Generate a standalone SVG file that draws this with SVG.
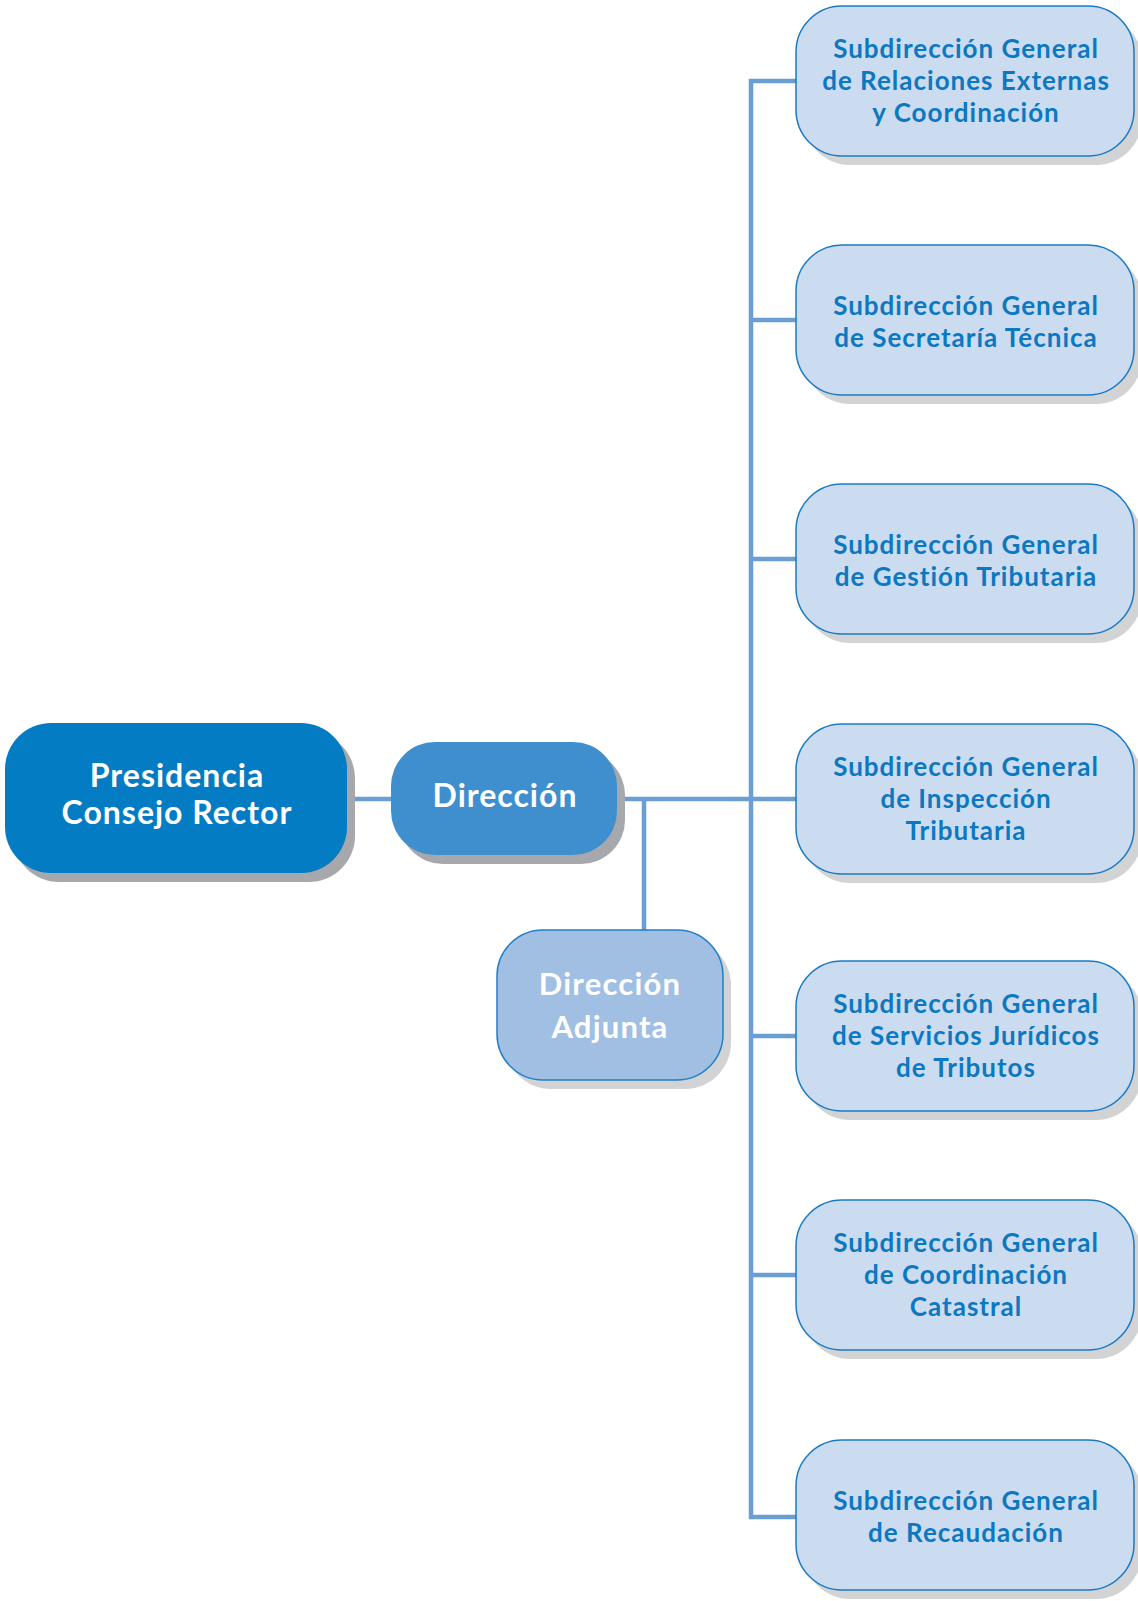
<svg xmlns="http://www.w3.org/2000/svg" width="1138" height="1601" viewBox="0 0 1138 1601">
<style>
.shD{fill:#a7a8ac}
.shL{fill:#d2d3d5}
.pres{fill:#037cc4}
.dir{fill:#3f8fcf}
.adj{fill:#a0bfe3;stroke:#1f7fc8;stroke-width:1.5}
.sub{fill:#ccdcf0;stroke:#1a7bc4;stroke-width:1.5}
.tw{font-family:Lato,"Noto Sans",sans-serif;font-weight:700;fill:#ffffff;text-anchor:middle}
.tb{font-family:Lato,"Noto Sans",sans-serif;font-weight:700;fill:#0b78c1;text-anchor:middle;font-size:26px;letter-spacing:1px}
.c{stroke:#6a9fd3;stroke-width:4.5;fill:none}
</style>
<rect width="1138" height="1601" fill="#ffffff"/>
<g id="connectors">
<line class="c" x1="347" y1="799" x2="393" y2="799"/>
<line class="c" x1="617" y1="799" x2="798" y2="799"/>
<line class="c" x1="644" y1="801" x2="644" y2="932"/>
<polyline class="c" points="798,81 751,81 751,1517 798,1517"/>
<line class="c" x1="751" y1="320" x2="798" y2="320"/>
<line class="c" x1="751" y1="559" x2="798" y2="559"/>
<line class="c" x1="751" y1="1036" x2="798" y2="1036"/>
<line class="c" x1="751" y1="1275" x2="798" y2="1275"/>
</g>
<g id="presidencia">
<rect class="shD" x="13" y="732" width="342" height="150" rx="46"/>
<rect class="pres" x="5" y="723" width="342" height="150" rx="46"/>
<text class="tw" font-size="32" letter-spacing="1" x="177" y="787">Presidencia</text>
<text class="tw" font-size="32" letter-spacing="1" x="177" y="824">Consejo Rector</text>
</g>
<g id="direccion">
<rect class="shD" x="399" y="751" width="226" height="113" rx="44"/>
<rect class="dir" x="391" y="742" width="226" height="113" rx="44"/>
<text class="tw" font-size="32" letter-spacing="1" x="505" y="807">Dirección</text>
</g>
<g id="direccion-adjunta">
<rect class="shL" x="505" y="939" width="226" height="150" rx="46"/>
<rect class="adj" x="497" y="930" width="226" height="150" rx="46"/>
<text class="tw" font-size="31" letter-spacing="1.2" x="610" y="995">Dirección</text>
<text class="tw" font-size="31" letter-spacing="1.2" x="610" y="1038">Adjunta</text>
</g>
<g id="sg-relaciones">
<rect class="shL" x="804" y="15" width="338" height="150" rx="46"/>
<rect class="sub" x="796" y="6" width="338" height="150" rx="46"/>
<text class="tb" x="966" y="58">Subdirección General</text>
<text class="tb" x="966" y="90">de Relaciones Externas</text>
<text class="tb" x="966" y="122">y Coordinación</text>
</g>
<g id="sg-secretaria">
<rect class="shL" x="804" y="254" width="338" height="150" rx="46"/>
<rect class="sub" x="796" y="245" width="338" height="150" rx="46"/>
<text class="tb" x="966" y="315">Subdirección General</text>
<text class="tb" x="966" y="347">de Secretaría Técnica</text>
</g>
<g id="sg-gestion">
<rect class="shL" x="804" y="493" width="338" height="150" rx="46"/>
<rect class="sub" x="796" y="484" width="338" height="150" rx="46"/>
<text class="tb" x="966" y="554">Subdirección General</text>
<text class="tb" x="966" y="586">de Gestión Tributaria</text>
</g>
<g id="sg-inspeccion">
<rect class="shL" x="804" y="733" width="338" height="150" rx="46"/>
<rect class="sub" x="796" y="724" width="338" height="150" rx="46"/>
<text class="tb" x="966" y="776">Subdirección General</text>
<text class="tb" x="966" y="808">de Inspección</text>
<text class="tb" x="966" y="840">Tributaria</text>
</g>
<g id="sg-juridicos">
<rect class="shL" x="804" y="970" width="338" height="150" rx="46"/>
<rect class="sub" x="796" y="961" width="338" height="150" rx="46"/>
<text class="tb" x="966" y="1013">Subdirección General</text>
<text class="tb" x="966" y="1045">de Servicios Jurídicos</text>
<text class="tb" x="966" y="1077">de Tributos</text>
</g>
<g id="sg-catastral">
<rect class="shL" x="804" y="1209" width="338" height="150" rx="46"/>
<rect class="sub" x="796" y="1200" width="338" height="150" rx="46"/>
<text class="tb" x="966" y="1252">Subdirección General</text>
<text class="tb" x="966" y="1284">de Coordinación</text>
<text class="tb" x="966" y="1316">Catastral</text>
</g>
<g id="sg-recaudacion">
<rect class="shL" x="804" y="1449" width="338" height="150" rx="46"/>
<rect class="sub" x="796" y="1440" width="338" height="150" rx="46"/>
<text class="tb" x="966" y="1510">Subdirección General</text>
<text class="tb" x="966" y="1542">de Recaudación</text>
</g>
</svg>
